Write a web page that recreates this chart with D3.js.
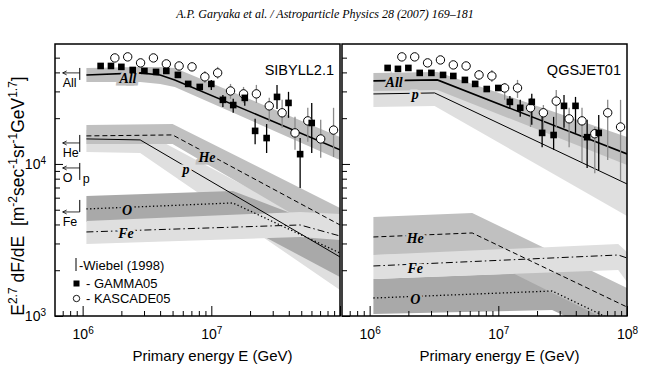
<!DOCTYPE html>
<html>
<head>
<meta charset="utf-8">
<script src="https://cdn.jsdelivr.net/npm/d3@7"></script>
<style>
  body { margin: 0; background: #fff; }
  svg { display: block; }
  text { font-family: "Liberation Sans", Arial, sans-serif; fill: #000; }
</style>
</head>
<body>
<svg id="chart" width="650" height="373"></svg>
<script>
// ---- data ----
// energies (GeV) of the GAMMA05 and KASCADE05 points
const gammaE = [1.38e6, 1.66e6, 2.0e6, 2.45e6, 3.02e6, 3.72e6, 4.47e6, 5.5e6, 6.61e6, 8.13e6,
                1.0e7, 1.23e7, 1.48e7, 1.82e7, 2.19e7, 2.69e7, 3.24e7, 3.98e7, 4.9e7, 6.03e7];
const kascadeE = [1.78e6, 2.24e6, 2.82e6, 3.55e6, 4.47e6, 5.62e6, 7.08e6, 8.91e6, 1.12e7,
                  1.41e7, 1.78e7, 2.24e7, 2.82e7, 3.55e7, 4.47e7, 5.62e7, 7.08e7, 8.91e7];

// E^2.7 dF/dE values, SIBYLL2.1 panel
const gammaSib = [44100, 44100, 43500, 41500, 40900, 40300, 40900, 38500, 33600, 32100,
                  33600, 26400, 24400, 27200, 16500, 14800, 27600, 25200, 11600, 18600];
const gammaSibErr = [null, null, null, null, null, null, null, null, null, null,
                     [30700, 35700], [23700, 28400], [21700, 26800], [24100, 30200], [13500, 19800],
                     [11800, 18300], [23000, 33100], [20100, 29800], [6950, 14800], [11800, 25200]];
const kascadeSib = [49800, 50600, 46200, 49800, 45500, 44100, 43500, 37400, 39700, 30200,
                    28900, 28900, 24100, 21700, 16000, 19200, 14600, 16700];
const kascadeSibErr = [null, null, null, null, null, null, null,
                       [34100, 40900], [36300, 43500], [26800, 33600], [25200, 32100], [25200, 33100],
                       [18900, 27200], [17300, 26400], [12400, 20400], [14000, 23400], [11000, 19500],
                       [11100, 23400]];

// QGSJET01 panel
const gammaQgs = [42800, 42200, 42800, 39700, 39700, 38500, 37900, 35700, 33600, 31100,
                  31600, 25600, 23400, 25600, 16000, 15500, 24100, 24100, 15000, 16000];
const gammaQgsErr = [null, null, null, null, null, null, null, null, null, null, null,
                     [23000, 28000], [20400, 26400], [18100, 28900], [12900, 20400], [12400, 20400],
                     [17300, 28400], [16000, 27600], [9400, 19500], [9100, 21000]];
const kascadeQgs = [50600, 50600, 46200, 48300, 44800, 44100, 38500, 37900, 31600, 31600,
                    23400, 21700, 25900, 19800, 19200, 15800, 21700, 17500];
const kascadeQgsErr = [null, null, null, null, null, null,
                       [35700, 41500], [34600, 41500], [26400, 34100], [27200, 35700], [17500, 27200],
                       [16000, 24400], [17300, 30700], [12900, 23400], [10300, 23400], [8700, 17500],
                       [10600, 26400], [7850, 26400]];

// model spectra: knot energies, line value, band top, band bottom
const sibAllE = [1.07e6, 2.8e6, 4.0e6, 5.2e6, 1e8];
const sibAll   = [38500, 39700, 38500, 35700, 12400];
const sibAllHi = [42800, 43460, 43460, 42800, 15060];
const sibAllLo = [34640, 34640, 33600, 32100, 10620];
const sibHeE = [1.07e6, 5.0e6, 1e8];
const sibHe   = [15290, 15520, 3970];
const sibHeHi = [18060, 18330, 5135];
const sibHeLo = [13540, 13540, 3070];
const sibPE = [1.07e6, 2.8e6, 1e8];
const sibP   = [14610, 14390, 2445];
const sibPHi = [16740, 16740, 3309];
const sibPLo = [11990, 11810, 1483];
const sibOE = [1.07e6, 1.47e7, 1e8];
const sibO   = [5057, 5539, 2597];
const sibOHi = [6160, 6645, 3570];
const sibOLo = [4154, 4281, 1806];
const sibFeE = [1.07e6, 4.9e7, 1e8];
const sibFe   = [3570, 3970, 3359];
const sibFeHi = [4217, 4833, 4688];
const sibFeLo = [2976, 3309, 3162];

const qgsAllE = [1.07e6, 3.36e6, 1e8];
const qgsAll   = [35170, 35700, 11630];
const qgsAllHi = [39700, 40300, 15060];
const qgsAllLo = [30220, 30680, 9850];
const qgsPE = [1.07e6, 3.2e6, 1e8];
const qgsP   = [28870, 29310, 7385];
const qgsPHi = [33090, 33600, 10620];
const qgsPLo = [23710, 24080, 4549];
const qgsHeE = [1.07e6, 6.27e6, 1e8];
const qgsHe   = [3309, 3516, 1146];
const qgsHeHi = [4480, 4760, 1528];
const qgsHeLo = [2519, 2597, 810];
const qgsFeE = [1.07e6, 8.55e7, 1e8];
const qgsFe   = [2133, 2519, 2407];
const qgsFeHi = [2519, 2976, 2637];
const qgsFeLo = [1751, 2007, 1673];
const qgsOE = [1.07e6, 2.62e7, 1e8];
const qgsO   = [1313, 1460, 846];
const qgsOHi = [1751, 1947, 1181];
const qgsOLo = [1031, 1095, 645];

// curve labels: [name, energy, value]
const sibLabels = [['All', 2.25e6, 36800], ['He', 9.25e6, 11120], ['p', 6.36e6, 9270],
                   ['O', 2.21e6, 4983], ['Fe', 2.17e6, 3516]];
const qgsLabels = [['All', 1.55e6, 34640], ['p', 2.26e6, 28870], ['He', 2.26e6, 3260],
                   ['Fe', 2.26e6, 2069], ['O', 2.26e6, 1294]];

// Wiebel (1998) marks at 1 PeV
const wiebelNames = ['All', 'He', 'O', 'Fe'];
const wiebelVal = [39700, 13740, 9410, 4833];
const wiebelLo  = [35700, 11990, 7850, 4833];
const wiebelHi  = [42800, 15520, 10150, 5798];

const xTicks = [1e6, 1e7, 1e8];
const yTicks = [1e3, 1e4];

// ---- layout ----
const svg = d3.select('#chart');
const plotTop = 44, plotBottom = 316;
const y = d3.scaleLog().domain([1e3, 6.15e4]).range([plotBottom, plotTop]);
const eRange = [6.1e5, 1e8];

const fills = { dark: '#a9a9a9', mid: '#c0c0c0', light: '#dfdfdf' };
const lineStyle = {
    All: { w: 1.6, dash: null },
    p:   { w: 1, dash: null },
    He:  { w: 1, dash: '5,3' },
    O:   { w: 1.3, dash: '1.3,2.4' },
    Fe:  { w: 1, dash: '7,3,1.5,3' }
};

// header
svg.append('text')
    .attr('x', 325).attr('y', 18)
    .attr('text-anchor', 'middle')
    .style('font-family', '"Liberation Serif", "DejaVu Serif", serif')
    .style('font-style', 'italic')
    .style('font-size', '12px')
    .text('A.P. Garyaka et al. / Astroparticle Physics 28 (2007) 169–181');

function comp(name, e, v, hi, lo, fill) {
    return { name, fill, pts: e.map((d, i) => ({ e: d, v: v[i], hi: hi[i], lo: lo[i] })) };
}

const panels = [
    {
        id: 'sib', x0: 55, x1: 340, title: 'SIBYLL2.1', yLabels: true,
        xLabels: [1e6, 1e7],
        // drawing order of the bands
        comps: [
            comp('p', sibPE, sibP, sibPHi, sibPLo, fills.light),
            comp('He', sibHeE, sibHe, sibHeHi, sibHeLo, fills.mid),
            comp('All', sibAllE, sibAll, sibAllHi, sibAllLo, fills.mid),
            comp('O', sibOE, sibO, sibOHi, sibOLo, fills.dark),
            comp('Fe', sibFeE, sibFe, sibFeHi, sibFeLo, fills.light)
        ],
        labels: sibLabels,
        gamma: gammaSib, gammaErr: gammaSibErr,
        kascade: kascadeSib, kascadeErr: kascadeSibErr
    },
    {
        id: 'qgs', x0: 342, x1: 627, title: 'QGSJET01', yLabels: false,
        xLabels: [1e6, 1e7, 1e8],
        comps: [
            comp('O', qgsOE, qgsO, qgsOHi, qgsOLo, fills.dark),
            comp('He', qgsHeE, qgsHe, qgsHeHi, qgsHeLo, fills.mid),
            comp('Fe', qgsFeE, qgsFe, qgsFeHi, qgsFeLo, fills.light),
            comp('p', qgsPE, qgsP, qgsPHi, qgsPLo, fills.light),
            comp('All', qgsAllE, qgsAll, qgsAllHi, qgsAllLo, fills.mid)
        ],
        labels: qgsLabels,
        gamma: gammaQgs, gammaErr: gammaQgsErr,
        kascade: kascadeQgs, kascadeErr: kascadeQgsErr
    }
];

function supLabel(sel, base, exp) {
    sel.text(base);
    sel.append('tspan')
        .attr('baseline-shift', 'super')
        .style('font-size', '10px')
        .text(exp);
}

panels.forEach(p => {
    const x = d3.scaleLog().domain(eRange).range([p.x0, p.x1]);
    const g = svg.append('g');

    g.append('clipPath').attr('id', 'clip-' + p.id)
        .append('rect')
        .attr('x', p.x0).attr('y', plotTop)
        .attr('width', p.x1 - p.x0).attr('height', plotBottom - plotTop);
    const plot = g.append('g').attr('clip-path', `url(#clip-${p.id})`);

    const area = d3.area().x(d => x(d.e)).y0(d => y(d.lo)).y1(d => y(d.hi));
    const line = d3.line().x(d => x(d.e)).y(d => y(d.v));

    // bands
    p.comps.forEach(c => {
        plot.append('path').datum(c.pts).attr('d', area).attr('fill', c.fill);
    });
    // model lines
    p.comps.forEach(c => {
        const st = lineStyle[c.name];
        plot.append('path').datum(c.pts)
            .attr('d', line)
            .attr('fill', 'none')
            .attr('stroke', '#000')
            .attr('stroke-width', st.w)
            .attr('stroke-dasharray', st.dash);
    });
    // curve labels, knocking the line out with the band colour
    p.labels.forEach(([name, e, v]) => {
        const c = p.comps.find(k => k.name === name);
        plot.append('text')
            .attr('x', x(e)).attr('y', y(v))
            .attr('dy', '0.35em')
            .attr('text-anchor', 'middle')
            .style('font-family', '"Liberation Serif", "DejaVu Serif", serif')
            .style('font-weight', 'bold')
            .style('font-style', 'italic')
            .style('font-size', '14px')
            .style('paint-order', 'stroke')
            .attr('stroke', c.fill)
            .attr('stroke-width', 5)
            .text(name);
    });

    // error bars
    plot.selectAll('.kerr').data(p.kascadeErr.map((d, i) => d && { e: kascadeE[i], r: d }).filter(Boolean))
        .join('line')
        .attr('x1', d => x(d.e)).attr('x2', d => x(d.e))
        .attr('y1', d => y(d.r[0])).attr('y2', d => y(d.r[1]))
        .attr('stroke', '#8a8a8a').attr('stroke-width', 1.3);
    plot.selectAll('.gerr').data(p.gammaErr.map((d, i) => d && { e: gammaE[i], r: d }).filter(Boolean))
        .join('line')
        .attr('x1', d => x(d.e)).attr('x2', d => x(d.e))
        .attr('y1', d => y(d.r[0])).attr('y2', d => y(d.r[1]))
        .attr('stroke', '#000').attr('stroke-width', 1.3);

    // KASCADE05 open circles
    plot.selectAll('.kas').data(p.kascade.map((v, i) => ({ e: kascadeE[i], v })))
        .join('circle')
        .attr('cx', d => x(d.e)).attr('cy', d => y(d.v)).attr('r', 4.2)
        .attr('fill', '#fff').attr('stroke', '#000').attr('stroke-width', 1);
    // GAMMA05 filled squares
    plot.selectAll('.gam').data(p.gamma.map((v, i) => ({ e: gammaE[i], v })))
        .join('rect')
        .attr('x', d => x(d.e) - 3.3).attr('y', d => y(d.v) - 3.3)
        .attr('width', 6.6).attr('height', 6.6)
        .attr('fill', '#000');

    // axes with inward ticks
    const tickVals = x.ticks().filter(t => t > eRange[0] * 1.05);
    const majorX = tickVals.filter(t => xTicks.includes(t));
    const minorX = tickVals.filter(t => !xTicks.includes(t));
    g.append('g').attr('transform', `translate(0,${plotBottom})`)
        .call(d3.axisBottom(x).tickValues(minorX).tickSizeInner(-5).tickSizeOuter(0).tickFormat(''))
        .call(a => a.select('.domain').remove());
    const xa = g.append('g').attr('transform', `translate(0,${plotBottom})`)
        .call(d3.axisBottom(x).tickValues(majorX).tickSizeInner(-10).tickSizeOuter(0).tickPadding(13).tickFormat(''))
        .call(a => a.select('.domain').remove());
    xa.selectAll('.tick text')
        .style('font-size', '14px').style('font-family', '"Liberation Sans", Arial, sans-serif')
        .attr('fill', '#000')
        .each(function (d) {
            if (p.xLabels.includes(d)) supLabel(d3.select(this), '10', Math.round(Math.log10(d)));
        });

    const yTickVals = y.ticks().filter(t => t < 5.9e4);
    const majorY = yTickVals.filter(t => yTicks.includes(t));
    const minorY = yTickVals.filter(t => !yTicks.includes(t));
    g.append('g').attr('transform', `translate(${p.x0},0)`)
        .call(d3.axisLeft(y).tickValues(minorY).tickSizeInner(-5).tickSizeOuter(0).tickFormat(''))
        .call(a => a.select('.domain').remove());
    const ya = g.append('g').attr('transform', `translate(${p.x0},0)`)
        .call(d3.axisLeft(y).tickValues(majorY).tickSizeInner(-8).tickSizeOuter(0).tickPadding(9).tickFormat(''))
        .call(a => a.select('.domain').remove());
    if (p.yLabels) {
        ya.selectAll('.tick text')
            .style('font-size', '14px').style('font-family', '"Liberation Sans", Arial, sans-serif')
            .attr('fill', '#000')
            .each(function (d) { supLabel(d3.select(this), '10', Math.round(Math.log10(d))); });
    }

    // frame
    g.append('rect')
        .attr('x', p.x0).attr('y', plotTop)
        .attr('width', p.x1 - p.x0).attr('height', plotBottom - plotTop)
        .attr('fill', 'none').attr('stroke', '#000').attr('stroke-width', 1.5);

    // model name
    g.append('text')
        .attr('x', p.x1 - 6).attr('y', 75)
        .attr('text-anchor', 'end')
        .style('font-size', '14.5px')
        .text(p.title);

    // x axis title
    g.append('text')
        .attr('x', (p.x0 + p.x1) / 2 + 15).attr('y', 361)
        .attr('text-anchor', 'middle')
        .style('font-size', '15px')
        .text('Primary energy E (GeV)');

    if (p.id === 'sib') {
        // Wiebel (1998) arrows at the left edge
        const xb = x(9.5e5), xt = x(7.0e5);
        wiebelNames.forEach((n, i) => {
            const yv = y(wiebelVal[i]);
            g.append('line').attr('x1', xb).attr('x2', xb)
                .attr('y1', y(wiebelLo[i])).attr('y2', y(wiebelHi[i]))
                .attr('stroke', '#000').attr('stroke-width', 1);
            g.append('path')
                .attr('d', `M${xb},${yv}H${xt}M${xt + 4},${yv - 2}L${xt},${yv}L${xt + 4},${yv + 2}`)
                .attr('fill', 'none').attr('stroke', '#000').attr('stroke-width', 0.8);
            g.append('text').attr('x', xt).attr('y', yv + 14)
                .style('font-size', '12.5px').text(n);
            if (n === 'O') {
                g.append('text').attr('x', xb + 3).attr('y', yv + 15)
                    .style('font-size', '12.5px').text('p');
            }
        });

        // legend
        const lg = g.append('g');
        lg.append('line').attr('x1', 76).attr('x2', 76).attr('y1', 258).attr('y2', 271)
            .attr('stroke', '#000').attr('stroke-width', 1);
        lg.append('text').attr('x', 79).attr('y', 270).style('font-size', '13px').text('-Wiebel (1998)');
        lg.append('rect').attr('x', 73.5).attr('y', 280.5).attr('width', 6).attr('height', 6).attr('fill', '#000');
        lg.append('text').attr('x', 86).attr('y', 288).style('font-size', '13px').text(' - GAMMA05');
        lg.append('circle').attr('cx', 76.5).attr('cy', 298.5).attr('r', 3.2)
            .attr('fill', '#fff').attr('stroke', '#000').attr('stroke-width', 0.9);
        lg.append('text').attr('x', 86).attr('y', 303).style('font-size', '13px').text(' - KASCADE05');
    }
});

// y axis title
const yt = svg.append('text')
    .attr('transform', 'translate(24,196) rotate(-90)')
    .attr('text-anchor', 'middle')
    .style('font-size', '17.5px');
const ytParts = [['E', false], ['2.7', true], ['\u00a0dF/dE\u00a0\u00a0[m', false], ['-2', true],
                 ['sec', false], ['-1', true], ['sr', false], ['-1', true],
                 ['GeV', false], ['1.7', true], [']', false]];
ytParts.forEach(([t, sup]) => {
    const ts = yt.append('tspan').text(t);
    if (sup) ts.attr('baseline-shift', 'super').style('font-size', '12px');
});
</script>
</body>
</html>
